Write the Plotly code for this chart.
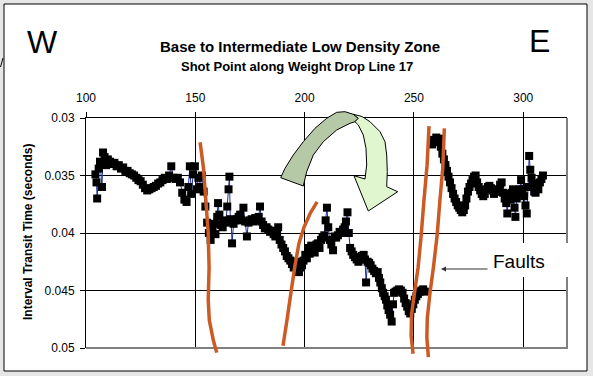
import plotly.graph_objects as go

# ---------------- data ----------------
shot_point = [
    104.3, 104.8, 105.1, 105.8, 106.4, 107.3, 107.8, 108.5, 109.2, 110.0,
    111.0, 112.0, 113.0, 114.0, 115.0, 116.0, 117.0, 118.0, 119.0, 120.0,
    121.0, 122.0, 123.0, 124.0, 125.0, 126.0, 127.0, 128.0, 129.0, 130.0,
    131.0, 132.0, 133.0, 134.0, 135.0, 136.0, 137.0, 138.0, 139.0, 140.0,
    141.0, 142.0, 143.0, 144.0, 145.0, 146.0, 146.8, 147.5, 148.2, 149.0,
    149.8, 150.6, 151.4, 152.2, 153.0, 153.8, 154.6, 155.4, 156.2, 157.0,
    157.8, 158.5, 159.2, 160.0, 160.4, 161.0, 161.8, 162.5, 163.2, 164.0,
    164.6, 165.2, 165.6, 166.0, 166.4, 166.8, 167.5, 168.2, 169.0, 169.8,
    170.5, 171.2, 172.0, 172.8, 173.6, 174.3, 175.0, 175.8, 176.6, 177.4,
    178.2, 179.0, 179.6, 180.3, 181.0, 181.8, 182.6, 183.4, 184.2, 185.0,
    185.8, 186.6, 187.4, 187.9, 188.6, 189.4, 190.2, 191.0, 191.8, 192.6,
    193.4, 194.2, 195.0, 195.8, 196.6, 197.4, 198.2, 198.8, 199.5, 200.3,
    201.0, 201.6, 202.3, 203.0, 203.8, 204.6, 205.4, 206.1, 206.8, 207.5,
    208.2, 209.0, 209.6, 210.2, 210.8, 211.5, 212.2, 213.0, 213.7, 214.4,
    215.2, 216.0, 216.8, 217.6, 218.3, 218.9, 219.6, 220.2, 220.8, 221.5,
    222.2, 223.0, 223.8, 224.6, 225.4, 226.2, 227.0, 227.6, 228.1, 228.8,
    229.5, 230.2, 231.0, 231.8, 232.6, 233.4, 234.0, 234.6, 235.3, 235.9,
    236.6, 237.2, 237.8, 238.4, 239.1, 239.8, 240.4, 240.9, 241.6, 242.4,
    243.2, 244.0, 244.8, 245.5, 246.2, 246.9, 247.6, 248.3, 249.0, 249.7,
    250.4, 251.1, 251.8, 252.6, 253.4, 254.2, 255.0, 256.5,
    258.3, 258.8, 259.5, 260.2, 260.9, 261.6, 262.3, 263.0, 263.7, 264.4,
    265.1, 265.8, 266.5, 267.2, 267.9, 268.6, 269.3, 270.0, 270.7, 271.4,
    272.1, 272.8, 273.4, 274.0, 274.7, 275.4, 276.1, 276.8, 277.5, 278.2,
    278.9, 279.6, 280.3, 281.0, 281.7, 282.4, 283.1, 283.8, 284.5, 285.2,
    285.9, 286.6, 287.3, 288.0, 288.7, 289.4, 290.1, 290.8, 291.5, 292.2,
    292.7, 293.3, 294.0, 294.7, 295.3, 296.0, 296.4, 297.0, 297.7, 298.4,
    299.0, 299.7, 300.4, 301.0, 301.6, 302.2, 302.7, 303.2, 303.8, 304.4,
    305.0, 305.6, 306.2, 306.9, 307.6, 308.3, 309.0,
]
transit_time = [
    0.0349, 0.0356, 0.0370, 0.0344, 0.0338, 0.0360, 0.0330, 0.0334, 0.0341, 0.0336,
    0.0338, 0.0340, 0.0339, 0.0342, 0.0341, 0.0344, 0.0343, 0.0346, 0.0346, 0.0348,
    0.0349, 0.0350, 0.0352, 0.0354, 0.0355, 0.0358, 0.0361, 0.0363, 0.0362, 0.0361,
    0.0360, 0.0359, 0.0357, 0.0356, 0.0354, 0.0352, 0.0353, 0.0350, 0.0342, 0.0352,
    0.0353, 0.0352, 0.0356, 0.0365, 0.0371, 0.0373, 0.0360, 0.0342, 0.0366, 0.0349,
    0.0342, 0.0362, 0.0352, 0.0360, 0.0350, 0.0364, 0.0377, 0.0391, 0.0400, 0.0406,
    0.0397, 0.0392, 0.0401, 0.0386, 0.0374, 0.0384, 0.0393, 0.0395, 0.0389, 0.0391,
    0.0377, 0.0362, 0.0351, 0.0388, 0.0390, 0.0409, 0.0392, 0.0389, 0.0388, 0.0386,
    0.0384, 0.0389, 0.0378, 0.0390, 0.0403, 0.0391, 0.0389, 0.0388, 0.0390, 0.0387,
    0.0389, 0.0386, 0.0377, 0.0390, 0.0393, 0.0396, 0.0395, 0.0397, 0.0399, 0.0398,
    0.0401, 0.0403, 0.0400, 0.0395, 0.0406, 0.0410, 0.0413, 0.0416, 0.0420, 0.0422,
    0.0424, 0.0427, 0.0430, 0.0426, 0.0425, 0.0434, 0.0430, 0.0428, 0.0424, 0.0419,
    0.0422, 0.0413, 0.0418, 0.0411, 0.0415, 0.0417, 0.0410, 0.0409, 0.0413, 0.0406,
    0.0404, 0.0402, 0.0389, 0.0378, 0.0395, 0.0406, 0.0410, 0.0415, 0.0403, 0.0404,
    0.0402, 0.0399, 0.0400, 0.0397, 0.0395, 0.0390, 0.0382, 0.0400, 0.0413, 0.0416,
    0.0419, 0.0421, 0.0423, 0.0425, 0.0423, 0.0420, 0.0419, 0.0423, 0.0443, 0.0425,
    0.0426, 0.0428, 0.0431, 0.0433, 0.0435, 0.0434, 0.0439, 0.0443, 0.0448, 0.0452,
    0.0455, 0.0458, 0.0463, 0.0467, 0.0471, 0.0477, 0.0462, 0.0452, 0.0451, 0.0450,
    0.0449, 0.0450, 0.0452, 0.0457, 0.0461, 0.0464, 0.0468, 0.0470, 0.0466, 0.0462,
    0.0458, 0.0455, 0.0453, 0.0451, 0.0450, 0.0449, 0.0451, None,
    0.0323, 0.0319, 0.0321, 0.0317, 0.0320, 0.0318, 0.0325, 0.0331, 0.0336, 0.0341,
    0.0346, 0.0351, 0.0356, 0.0361, 0.0366, 0.0370, 0.0373, 0.0376, 0.0378, 0.0380,
    0.0382, 0.0380, 0.0376, 0.0370, 0.0364, 0.0360, 0.0357, 0.0354, 0.0351, 0.0350,
    0.0356, 0.0360, 0.0363, 0.0366, 0.0368, 0.0366, 0.0362, 0.0360, 0.0359, 0.0361,
    0.0363, 0.0366, 0.0364, 0.0362, 0.0364, 0.0358, 0.0356, 0.0365, 0.0370, 0.0374,
    0.0383, 0.0366, 0.0371, 0.0365, 0.0362, 0.0378, 0.0386, 0.0370, 0.0366, 0.0362,
    0.0354, 0.0362, 0.0368, 0.0376, 0.0383, 0.0360, 0.0333, 0.0345, 0.0352, 0.0358,
    0.0364, 0.0365, 0.0357, 0.0362, 0.0356, 0.0353, 0.0350,
]

x_tick_values = [100, 150, 200, 250, 300]
y_tick_values = [0.03, 0.035, 0.04, 0.045, 0.05]
y_tick_labels = ["0.03", "0.035", "0.04", "0.045", "0.05"]

# hand-drawn fault traces, in data units (shot point, seconds)
fault1_sp = [152.2, 153.7, 154.8, 155.9, 156.3, 155.9, 156.4, 158.2, 159.8]
fault1_t = [0.0321, 0.0343, 0.0371, 0.0400, 0.0430, 0.0458, 0.0476, 0.0493, 0.0504]
fault2_sp = [190.1, 191.9, 193.8, 195.6, 197.4, 199.7, 202.5, 205.7]
fault2_t = [0.0498, 0.0476, 0.0451, 0.0428, 0.0409, 0.0395, 0.0383, 0.0373]
fault3_sp = [256.9, 256.0, 254.6, 253.3, 251.9, 250.1, 248.9, 248.7, 249.6]
fault3_t = [0.0307, 0.0341, 0.0371, 0.0402, 0.0430, 0.0454, 0.0471, 0.0489, 0.0505]
fault4_sp = [263.9, 263.2, 261.9, 260.6, 258.9, 257.4, 256.1, 255.9, 256.6]
fault4_t = [0.0309, 0.0343, 0.0371, 0.0402, 0.0430, 0.0451, 0.0474, 0.0491, 0.0508]

# ---------------- layout geometry ----------------
W, H = 593, 376
ML, MR, MT, MB = 86, 26, 118, 28
X_RANGE = [100, 320]
Y_RANGE = [0.05, 0.03]
PW, PH = W - ML - MR, H - MT - MB
FONT = "Arial, Liberation Sans, sans-serif"


def pxp(px, py):
    return (px - ML) / PW, (H - MB - py) / PH


def dp(x, y):
    return ((x - X_RANGE[0]) / (X_RANGE[1] - X_RANGE[0]),
            (y - Y_RANGE[0]) / (Y_RANGE[1] - Y_RANGE[0]))


def path(points, close=False):
    s = "M " + " L ".join(f"{a:.5f},{b:.5f}" for a, b in points)
    return s + (" Z" if close else "")


fig = go.Figure()
fig.add_trace(go.Scatter(
    x=shot_point, y=transit_time, mode="lines+markers",
    line=dict(color="#1f2f9a", width=1), connectgaps=False,
    marker=dict(symbol="square", size=8, color="black", line=dict(width=0)),
    showlegend=False, hoverinfo="skip",
))

shapes = []
# outer white frame
x0, y0 = pxp(4, 4)
x1, y1 = pxp(587, 371)
shapes.append(dict(type="rect", xref="paper", yref="paper", x0=x0, y0=y1, x1=x1, y1=y0,
                   fillcolor="white", line=dict(color="black", width=1), layer="below"))
# small stray stroke at left edge
shapes.append(dict(type="path", xref="paper", yref="paper",
                   path=path([pxp(0.5, 67), pxp(3, 58)]),
                   line=dict(color="black", width=1)))
# plot border (grey bottom and right)
shapes.append(dict(type="path", xref="paper", yref="paper",
                   path=path([pxp(86, 348), pxp(567, 348), pxp(567, 118)]),
                   line=dict(color="#808080", width=2), layer="above"))

# faults
for fx, fy in [(fault1_sp, fault1_t), (fault2_sp, fault2_t),
               (fault3_sp, fault3_t), (fault4_sp, fault4_t)]:
    shapes.append(dict(type="path", xref="paper", yref="paper",
                       path=path([dp(a, b) for a, b in zip(fx, fy)]),
                       line=dict(color="#cc5a24", width=3.5), layer="above"))

# curved arrow (dark back part, light front part)
arrow_dark = [(280.7, 177.7), (285, 168.3), (293.3, 155), (303.3, 141.7), (315, 128.3),
              (326.7, 118.3), (336.7, 112.3), (345, 111.7), (353.3, 114.3), (358.3, 118.3),
              (355, 121.7), (350, 123.3), (336.7, 130), (323.3, 141.7), (313.3, 155),
              (306.7, 171.7), (303.3, 186)]
arrow_light = [(353.3, 114.3), (362, 116.5), (370, 121.7), (380, 131.7), (385, 141.7),
               (386.7, 155), (387.3, 171.7), (386.7, 186.7), (397.7, 191.7), (368.3, 211),
               (354, 175.7), (365, 179), (366.7, 165), (366, 148.3), (363.3, 135),
               (358.3, 125), (355, 121.7), (358.3, 118.3)]
shapes.append(dict(type="path", xref="paper", yref="paper",
                   path=path([pxp(*p) for p in arrow_dark], close=True),
                   fillcolor="#b6c9a7", line=dict(color="black", width=1), layer="above"))
shapes.append(dict(type="path", xref="paper", yref="paper",
                   path=path([pxp(*p) for p in arrow_light], close=True),
                   fillcolor="#e0f6cf", line=dict(color="black", width=1), layer="above"))

# white label box for "Faults"
bx0, by0 = pxp(488, 243)
bx1, by1 = pxp(577, 277)
shapes.append(dict(type="rect", xref="paper", yref="paper", x0=bx0, y0=by1, x1=bx1, y1=by0,
                   fillcolor="white", line=dict(width=0), layer="above"))

annotations = []


def label(text, px, py, size, bold=False, angle=0, xanchor="center"):
    ax_, ay_ = pxp(px, py)
    annotations.append(dict(
        text=text, x=ax_, y=ay_, xref="paper", yref="paper", showarrow=False,
        xanchor=xanchor, yanchor="middle", textangle=angle,
        font=dict(family=FONT, size=size, color="black",
                  weight="bold" if bold else "normal"),
    ))


label("Base to Intermediate Low Density Zone", 300, 46, 15, bold=True)
label("Shot Point along Weight Drop Line 17", 297, 66, 13, bold=True)
label("W", 42, 42, 32)
label("E", 539, 41, 32)
label("Interval Transit Time (seconds)", 28, 232, 12, bold=True, angle=-90)
label("Faults", 519, 261, 19)

hx, hy = pxp(441, 269)
annotations.append(dict(
    x=hx, y=hy, xref="paper", yref="paper", text="", showarrow=True,
    ax=48, ay=0, arrowhead=2, arrowsize=1, arrowwidth=1, arrowcolor="#333333",
))

fig.update_layout(
    width=W, height=H,
    margin=dict(l=ML, r=MR, t=MT, b=MB, pad=0),
    paper_bgcolor="#e6e6e6", plot_bgcolor="white",
    showlegend=False,
    shapes=shapes, annotations=annotations,
    xaxis=dict(
        range=X_RANGE, side="top", tickmode="array", tickvals=x_tick_values,
        showgrid=True, gridcolor="black", gridwidth=1, zeroline=False,
        showline=True, linecolor="black", linewidth=1,
        ticks="outside", ticklen=5, tickcolor="black", ticklabelstandoff=5,
        tickfont=dict(family=FONT, size=12, color="black"),
    ),
    yaxis=dict(
        range=Y_RANGE, tickmode="array", tickvals=y_tick_values, ticktext=y_tick_labels,
        showgrid=True, gridcolor="black", gridwidth=1, zeroline=False,
        showline=True, linecolor="black", linewidth=1,
        ticks="outside", ticklen=5, tickcolor="black", ticklabelstandoff=3,
        tickfont=dict(family=FONT, size=12, color="black"),
    ),
)

fig.write_html("out.html", config={"displayModeBar": False},
               post_script="document.body.style.margin='0';")
